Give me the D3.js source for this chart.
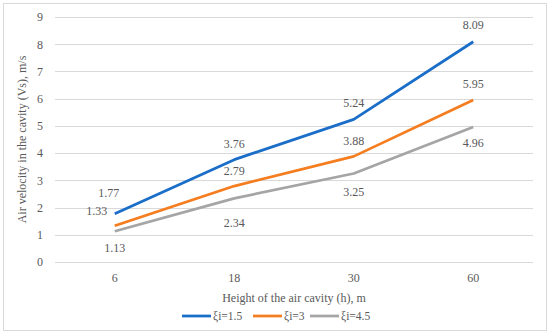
<!DOCTYPE html>
<html>
<head>
<meta charset="utf-8">
<script src="https://cdn.jsdelivr.net/npm/d3@7"></script>
<style>
  body { margin: 0; background: #fff; }
  svg text { font-family: "Palatino Linotype", "Book Antiqua", Palatino, "Liberation Serif", serif; fill: #595959; }
</style>
</head>
<body>
<script>
// chart data
var heights = ["6", "18", "30", "60"];
var seriesNames = ["ξi=1.5", "ξi=3", "ξi=4.5"];
var xi15 = [1.77, 3.76, 5.24, 8.09];
var xi3 = [1.33, 2.79, 3.88, 5.95];
var xi45 = [1.13, 2.34, 3.25, 4.96];
var yTicks = [0, 1, 2, 3, 4, 5, 6, 7, 8, 9];

function drawChart(){
    const width = 550;
    const height = 333;
    const marginTop = 17;
    const marginRight = 17;
    const marginBottom = 71;
    const marginLeft = 55;

    const colors = ["#1a6ec8", "#f47d20", "#a5a5a5"];
    const allSeries = [xi15, xi3, xi45];

    const svg = d3.create("svg")
        .attr("width", width)
        .attr("height", height)
        .attr("viewBox", [0, 0, width, height]);

    // outer chart border
    svg.append("rect")
        .attr("x", 3.5).attr("y", 3.5)
        .attr("width", width - 7).attr("height", height - 6)
        .attr("fill", "#fff")
        .attr("stroke", "#d9d9d9");

    const x = d3.scaleBand()
        .domain(heights)
        .range([marginLeft, width - marginRight]);

    const y = d3.scaleLinear()
        .domain([0, 9])
        .range([height - marginBottom, marginTop]);

    // gridlines
    svg.append("g")
        .selectAll("line")
        .data(yTicks)
        .join("line")
        .attr("x1", marginLeft)
        .attr("x2", width - marginRight)
        .attr("y1", d => Math.round(y(d)) + 0.5)
        .attr("y2", d => Math.round(y(d)) + 0.5)
        .attr("stroke", "#d9d9d9")
        .attr("stroke-width", 1);

    // y axis labels
    svg.append("g")
        .attr("transform", `translate(${marginLeft},0)`)
        .call(d3.axisLeft(y).tickValues(yTicks).tickSize(0).tickPadding(12))
        .call(g => g.select(".domain").remove())
        .call(g => g.selectAll("text").attr("font-size", "12px").attr("fill", "#595959"));

    // x axis labels
    svg.append("g")
        .attr("transform", `translate(0,${height - marginBottom})`)
        .call(d3.axisBottom(x).tickSize(0).tickPadding(11))
        .call(g => g.select(".domain").remove())
        .call(g => g.selectAll("text").attr("font-size", "12px").attr("fill", "#595959"));

    // axis titles
    svg.append("text")
        .attr("x", (marginLeft + width - marginRight) / 2)
        .attr("y", 302)
        .attr("text-anchor", "middle")
        .attr("font-size", "12px")
        .text("Height of the air cavity (h), m");

    svg.append("text")
        .attr("transform", `translate(26,${(marginTop + height - marginBottom) / 2}) rotate(-90)`)
        .attr("text-anchor", "middle")
        .attr("font-size", "12px")
        .text("Air velocity in the cavity (Vs), m/s");

    const line = d3.line()
        .x((d, i) => x(heights[i]) + x.bandwidth() / 2)
        .y(d => y(d));

    allSeries.forEach(function(vals, s){
        svg.append("path")
            .attr("fill", "none")
            .attr("stroke", colors[s])
            .attr("stroke-width", 2.75)
            .attr("stroke-linejoin", "round")
            .attr("d", line(vals));
    });

    // data labels (offsets from each point)
    const labelOffsets = [
        [[-6, -17], [0, -12], [0, -12], [0, -13]],
        [[-18, -11], [0, -11], [0, -11], [0, -12]],
        [[0, 21], [0, 29], [0, 22], [0, 20]]
    ];
    allSeries.forEach(function(vals, s){
        svg.append("g")
            .selectAll("text")
            .data(vals)
            .join("text")
            .attr("x", (d, i) => x(heights[i]) + x.bandwidth() / 2 + labelOffsets[s][i][0])
            .attr("y", (d, i) => y(d) + labelOffsets[s][i][1])
            .attr("text-anchor", "middle")
            .attr("font-size", "12px")
            .text(d => d.toFixed(2));
    });

    // legend
    const legendX = [182, 253, 310];
    const legendY = 316;
    const legend = svg.append("g");
    seriesNames.forEach(function(name, s){
        legend.append("line")
            .attr("x1", legendX[s]).attr("x2", legendX[s] + 29)
            .attr("y1", legendY).attr("y2", legendY)
            .attr("stroke", colors[s])
            .attr("stroke-width", 2.75);
        legend.append("text")
            .attr("x", legendX[s] + 31)
            .attr("y", legendY + 4)
            .attr("font-size", "11.5px")
            .text(name);
    });

    document.body.appendChild(svg.node());
}

drawChart();
</script>
</body>
</html>
